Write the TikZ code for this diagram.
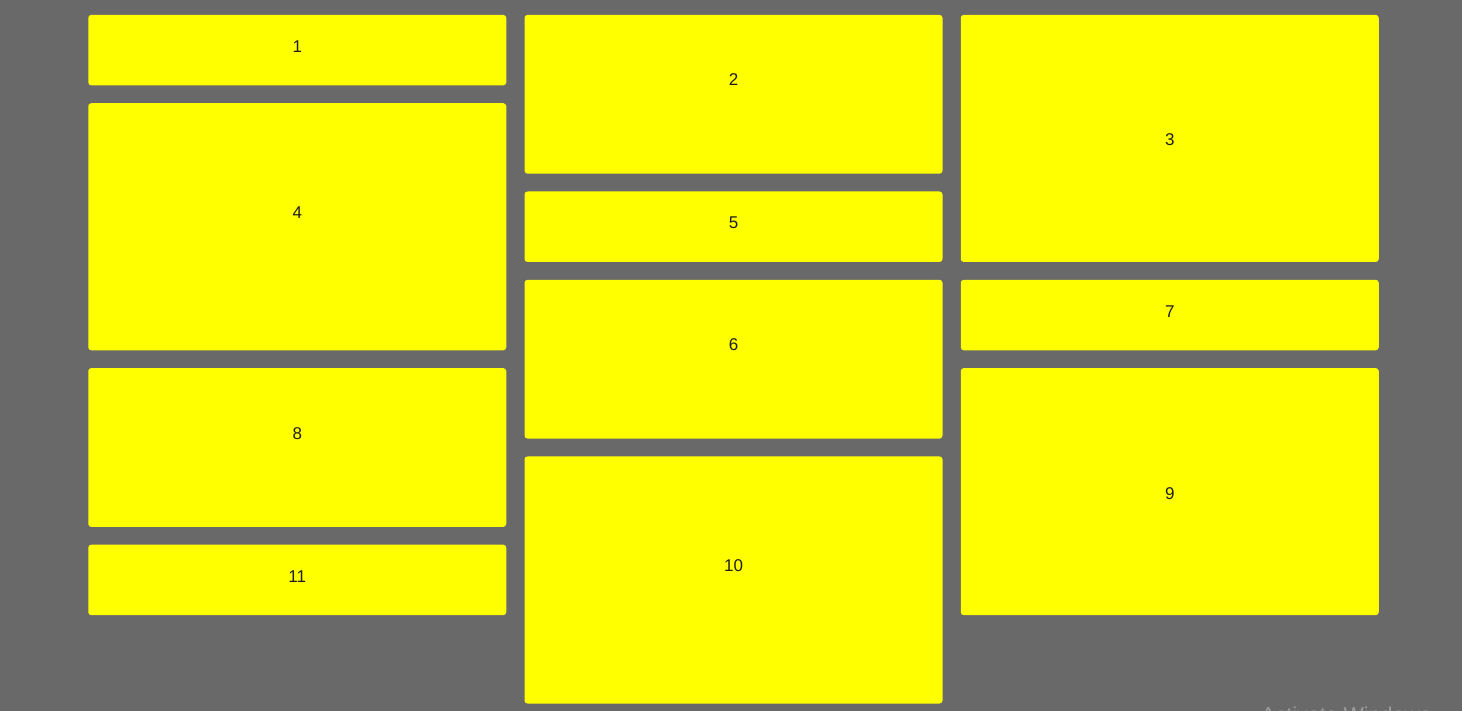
\documentclass[tikz,border=0pt]{standalone}
\usepackage{fontspec}
\setmainfont{Liberation Sans}
\definecolor{bggrey}{HTML}{696969}
\definecolor{tileyellow}{HTML}{FFFF00}
\definecolor{labelink}{HTML}{1E1E1E}
\definecolor{wmgrey}{HTML}{9C9C9C}
\tikzset{
  tile/.style={fill=tileyellow, draw=none, rounded corners=3pt, inner sep=0pt,
    minimum width=418pt, anchor=north},
  tilelabel/.style={text=labelink, inner sep=0pt, font=\fontsize{17}{19}\selectfont},
  watermark/.style={text=wmgrey, inner sep=0pt, anchor=base west, font=\fontsize{21.5}{24}\selectfont}
}
\newcommand{\tilebox}[6]{%
  \node[tile, minimum height=#4pt] (#1) at (#2,#3) {};
  \node[tilelabel] (#1t) at (#2,#6) {#5};
}
\begin{document}
\begin{tikzpicture}[x=1pt,y=-1pt]
\useasboundingbox (0,0) rectangle (1462,711);
\clip (0,0) rectangle (1462,711);
\fill[bggrey] (0,0) rectangle (1462,711);
% column 1
\tilebox{b1}{297.25}{14.7}{70.5}{1}{46.5}
\tilebox{b4}{297.25}{103}{247.1}{4}{212.5}
\tilebox{b8}{297.25}{367.9}{158.8}{8}{433.5}
\tilebox{b11}{297.25}{544.5}{70.5}{11}{577}
% column 2
\tilebox{b2}{733.5}{14.7}{158.8}{2}{80}
\tilebox{b5}{733.5}{191.3}{70.5}{5}{223}
\tilebox{b6}{733.5}{279.6}{158.8}{6}{345}
\tilebox{b10}{733.5}{456.2}{247.1}{10}{566}
% column 3
\tilebox{b3}{1169.75}{14.7}{247.1}{3}{140}
\tilebox{b7}{1169.75}{279.6}{70.5}{7}{311.5}
\tilebox{b9}{1169.75}{367.9}{247.1}{9}{493.5}
% watermark
\node[watermark] (wm) at (1261,722.5) {Activate Windows};
\end{tikzpicture}
\end{document}
